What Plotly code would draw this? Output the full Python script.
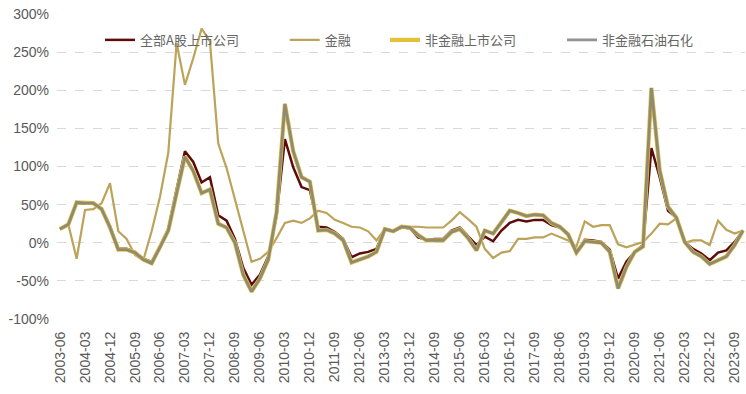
import plotly.graph_objects as go

QUARTERS = [f"{y}-{m}" for y in range(2003, 2024) for m in ("03", "06", "09", "12")][1:]  # 2003-06 .. 2023-12

TICK_LABELS = ["2003-06", "2004-03", "2004-12", "2005-09", "2006-06", "2007-03", "2007-12",
               "2008-09", "2009-06", "2010-03", "2010-12", "2011-09", "2012-06", "2013-03",
               "2013-12", "2014-09", "2015-06", "2016-03", "2016-12", "2017-09", "2018-06",
               "2019-03", "2019-12", "2020-09", "2021-06", "2022-03", "2022-12", "2023-09"]

ALL_A = [18, 24, 52, 51, 51, 45, 22, -8, -8, -12, -21, -25, -5, 18, 70, 120, 106, 79, 86, 36,
         29, 5, -33, -55, -42, -18, 35, 136, 99, 73, 69, 21, 20, 14, 5, -19, -14, -12, -8, 18,
         15, 20, 19, 7, 4, 5, 5, 16, 20, 9, -3, 8, 2, 16, 26, 30, 28, 30, 30, 23,
         20, 11, -13, 4, 3, 1, -9, -47, -25, -12, -3, 124, 86, 42, 33, 1, -8, -14, -23, -13,
         -10, 1, 16]

FINANCE = [18, 24, -21, 43, 44, 52, 78, 15, 5, -16, -23, 15, 60, 118, 262, 207, 242, 281, 264, 130,
           98, 57, 15, -25, -21, -12, 6, 26, 29, 26, 32, 42, 39, 30, 26, 21, 20, 15, 3, 18,
           16, 21, 21, 21, 20, 20, 20, 29, 40, 31, 21, -8, -20, -13, -11, 5, 5, 7, 7, 12,
           8, 3, -5, 28, 21, 23, 23, -2, -6, -2, 1, 12, 25, 24, 32, 0, 3, 3, -3, 29,
           17, 12, 16]

NON_FIN = [18, 24, 53, 52, 52, 44, 20, -9, -9, -13, -22, -27, -6, 16, 65, 113, 94, 65, 70, 25,
           20, 0, -42, -64, -47, -22, 40, 182, 120, 86, 80, 16, 17, 12, 3, -26, -22, -18, -12, 18,
           15, 21, 20, 10, 3, 3, 3, 14, 18, 6, -10, 16, 12, 27, 42, 39, 35, 37, 36, 26,
           21, 11, -13, 2, 1, 0, -12, -60, -32, -12, -5, 203, 95, 47, 33, 1, -12, -18, -28, -23,
           -18, -3, 16]

NON_FIN_EX_PETRO = [18, 24, 53, 52, 52, 44, 20, -9, -9, -13, -22, -27, -6, 16, 65, 113, 94, 65, 70, 25,
                    20, 0, -42, -64, -47, -22, 40, 182, 120, 86, 80, 16, 17, 12, 3, -26, -22, -18, -12, 18,
                    15, 21, 20, 10, 3, 3, 3, 14, 18, 6, -10, 16, 12, 27, 42, 39, 35, 37, 36, 26,
                    21, 11, -13, 2, 1, 0, -12, -60, -32, -12, -5, 203, 95, 47, 33, 1, -12, -18, -28, -23,
                    -18, -3, 16]

SERIES = [
    ("全部A股上市公司", ALL_A, "#5E0B0B", 2.5, "legend"),
    ("金融", FINANCE, "#BCA35A", 2.2, "legend2"),
    ("非金融上市公司", NON_FIN, "#E3C23A", 4.2, "legend3"),
    ("非金融石油石化", NON_FIN_EX_PETRO, "rgba(128,128,128,0.85)", 2.8, "legend4"),
]
LEGEND_X = [0.0625, 0.331, 0.4767, 0.734]

fig = go.Figure()
for name, vals, color, w, lg in SERIES:
    fig.add_trace(go.Scatter(x=QUARTERS, y=vals, name=name, mode="lines", legend=lg,
                             line=dict(color=color, width=w)))

font_axis = dict(family="Liberation Sans, Arial, sans-serif", size=14, color="#595959")
legend_font = dict(family="Noto Sans CJK SC", size=13, color="#666666")

legends = {}
for key, lx in zip(["legend", "legend2", "legend3", "legend4"], LEGEND_X):
    legends[key] = dict(orientation="h", x=lx, y=0.915, xanchor="left", yanchor="middle",
                        bgcolor="rgba(0,0,0,0)", font=legend_font, itemwidth=30)

fig.update_layout(
    width=746, height=394,
    margin=dict(l=57, r=1, t=14, b=75),
    paper_bgcolor="white", plot_bgcolor="white",
    showlegend=True,
    xaxis=dict(type="category", range=[-0.36, 82.24], tickmode="array",
               tickvals=TICK_LABELS, ticktext=TICK_LABELS, tickangle=-90,
               tickfont=font_axis, showgrid=False, showline=False, ticks="",
               zeroline=False, ticklabelstandoff=9),
    xaxis2=dict(type="category", matches="x", overlaying="x", anchor="free", position=0.25,
                tickmode="array", tickvals=TICK_LABELS, showticklabels=False,
                showline=True, linecolor="#C8C8C8", linewidth=1,
                ticks="outside", ticklen=5, tickcolor="#C8C8C8", showgrid=False, zeroline=False),
    yaxis=dict(range=[-100, 300], tickmode="array",
               tickvals=[-100, -50, 0, 50, 100, 150, 200, 250, 300],
               ticktext=["-100%", "-50%", "0%", "50%", "100%", "150%", "200%", "250%", "300%"],
               tickfont=font_axis, showgrid=True, gridcolor="#D9D9D9", griddash="dash",
               gridwidth=1, zeroline=False, showline=False, ticks="", ticklabelstandoff=7),
    **legends,
)

fig.write_html("out.html", config={"displayModeBar": False},
               post_script="document.body.style.margin='0px';")
